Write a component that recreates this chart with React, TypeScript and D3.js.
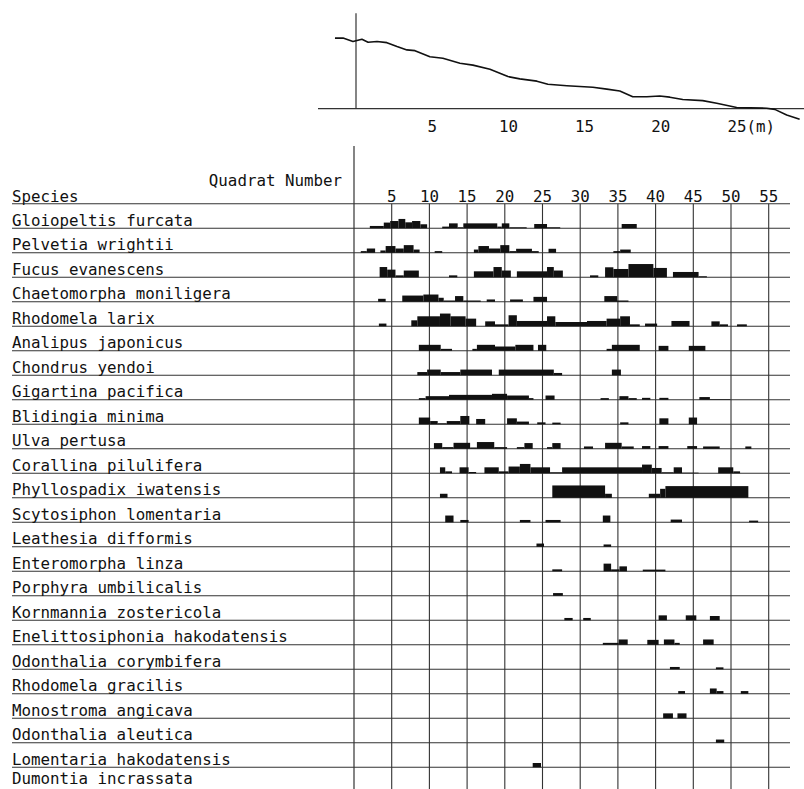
import React from "react";
import * as d3 from "d3";

// ---- Beach profile (top panel) ----
const profileDistance = [-1.38, -0.85, -0.2, 0.39, 0.79, 1.38, 2.03, 2.69, 3.34, 3.87, 4.85, 5.7, 6.82, 7.67, 8.79, 9.44, 9.97, 10.75, 11.87, 12.59, 13.84, 15.54, 16.46, 17.31, 18.16, 19.08, 19.93, 20.59, 21.44, 22.75, 23.67, 24.98, 26.95, 27.48, 28.26, 29.11];
const profileElevation = [1.85, 1.85, 1.76, 1.82, 1.74, 1.76, 1.73, 1.63, 1.54, 1.52, 1.36, 1.32, 1.19, 1.14, 1.03, 0.93, 0.84, 0.78, 0.72, 0.64, 0.6, 0.56, 0.51, 0.46, 0.31, 0.31, 0.33, 0.3, 0.24, 0.21, 0.14, 0.03, 0.01, -0.02, -0.17, -0.28];
const distanceTicks = [5, 10, 15, 20, 25];

// ---- Species distribution (bottom panel) ----
const quadratTicks = [5, 10, 15, 20, 25, 30, 35, 40, 45, 50, 55];
const species = [
  "Gloiopeltis furcata",
  "Pelvetia wrightii",
  "Fucus evanescens",
  "Chaetomorpha moniligera",
  "Rhodomela larix",
  "Analipus japonicus",
  "Chondrus yendoi",
  "Gigartina pacifica",
  "Blidingia minima",
  "Ulva pertusa",
  "Corallina pilulifera",
  "Phyllospadix iwatensis",
  "Scytosiphon lomentaria",
  "Leathesia difformis",
  "Enteromorpha linza",
  "Porphyra umbilicalis",
  "Kornmannia zostericola",
  "Enelittosiphonia hakodatensis",
  "Odonthalia corymbifera",
  "Rhodomela gracilis",
  "Monostroma angicava",
  "Odonthalia aleutica",
  "Lomentaria hakodatensis",
  "Dumontia incrassata",
];

// [from quadrat, to quadrat, abundance (0-10)]
type Seg = [number, number, number];
const gloiopeltis: Seg[] = [[2.1,3.95,1.8],[3.95,4.8,4.4],[4.8,5.9,5.6],[5.9,6.8,7.2],[6.8,7.7,4.6],[7.7,8.8,5.6],[8.8,9.7,3.1],[11.7,12.6,1.3],[12.6,13.75,3.8],[13.75,14.5,0.8],[14.5,19,3.8],[19,19.6,1.3],[19.6,20.6,3.8],[20.6,22.9,0.8],[23.9,25.6,3.3],[25.6,27.35,0.8],[35.5,37.5,3.3]];
const pelvetia: Seg[] = [[0.9,1.7,1.3],[1.7,2.8,3.3],[3.5,4.2,1.8],[4.2,5.5,5.2],[5.5,6.6,3.3],[6.6,7.9,5.9],[7.9,8.7,2.5],[10.7,11.7,1.3],[15.9,16.5,2.5],[16.5,17.9,5.2],[17.9,19.4,3.3],[19.4,20.6,5.9],[20.6,21.5,1.3],[21.5,23.6,3.1],[23.6,24.5,1.3],[25.8,26.8,3.1],[34.4,35.3,1.3],[35.3,36.7,2.5]];
const fucus: Seg[] = [[3.4,4.4,7.9],[4.4,5.5,5.9],[5.5,6.6,1.5],[6.6,8.6,5.2],[12.6,13.7,1.5],[15.9,18.5,4.6],[18.5,19.6,7.9],[19.6,20.8,5.2],[21.6,25.6,4.6],[25.6,26.5,7.9],[26.5,27.7,5.2],[31.3,32.4,1.5],[33.3,34.4,7.7],[34.4,36.4,6.4],[36.4,39.7,10.2],[39.7,41.5,7.2],[42.3,45.7,4.1],[45.7,46.8,0.8]];
const chaetomorpha: Seg[] = [[3.2,4.2,2.3],[6.4,9.2,4.8],[9.2,11.2,5.6],[11.2,11.9,3.1],[11.9,13.4,1],[13.4,14.5,4.4],[14.5,16.8,1],[17.6,18.7,1.8],[20.7,22.4,1.8],[23.8,25.6,3.8],[33.2,34.9,4.4],[34.9,36.4,1]];
const rhodomelaLarix: Seg[] = [[3.3,4.3,2.1],[7.6,8.4,4.6],[8.4,11.4,7.7],[11.4,12.8,9.8],[12.8,14.8,7.7],[14.8,16.2,5.9],[17.4,18.7,3.8],[18.7,20.5,1.5],[20.5,21.6,8.5],[21.6,25.6,4.1],[25.6,26.7,7.7],[26.7,30.9,3.3],[30.9,33.5,4.1],[33.5,35.3,5.9],[35.3,36.6,7.7],[36.6,37.9,1.5],[38.6,40.2,2.1],[42.1,44.5,4.1],[47.4,48.5,3.8],[48.5,49.6,1.5],[50.8,52.1,1.5]];
const analipus: Seg[] = [[8.6,11.5,4.6],[11.5,13,1.5],[15.7,16.3,1.5],[16.3,18.7,4.6],[18.7,21.4,3.3],[21.4,23.8,4.6],[24.4,25.5,4.6],[33.5,34.2,1.5],[34.2,37.9,4.6],[40.4,41.7,3.8],[44.4,46.6,3.8]];
const chondrus: Seg[] = [[8.4,9.7,2.5],[9.7,11.5,4.4],[11.5,14.1,2.5],[14.1,18.3,4.4],[19.2,26.5,4.4],[26.5,27.6,1.8],[34.2,35.4,4.4]];
const gigartina: Seg[] = [[8.6,9.5,1.3],[9.5,12.6,2.8],[12.6,18.3,3.8],[18.3,20.3,4.6],[20.3,23.2,3.3],[23.2,23.8,1.3],[25.4,26.6,3.3],[32.7,33.8,1.3],[35.2,36.4,2.8],[36.4,37.5,1.3],[38.2,39.3,1.5],[40.5,41.7,1.5],[45.8,47.2,2.1],[47.2,49.9,0.5]];
const blidingia: Seg[] = [[8.6,10.1,5.2],[10.1,11.1,2.5],[11.1,12.3,0.8],[12.3,14.1,2.5],[14.1,15.3,6.4],[16.2,17.4,4.1],[20.3,21.6,4.6],[21.6,23.2,2.1],[24.3,25.4,1.5],[26.3,27.4,1.3],[35.3,36.4,1.5],[40.5,41.7,4.6],[44.4,45.5,5.2]];
const ulva: Seg[] = [[10.6,11.7,4.4],[11.7,13.2,1.3],[13.2,15.4,4.6],[15.4,16.3,1],[16.3,18.6,5.2],[18.6,20.3,1.3],[21.6,22.6,1.3],[22.6,23.7,4.4],[25.6,26.3,1.3],[26.3,27.4,4.4],[30.5,31.7,1.8],[33.3,35.5,4.6],[35.5,37.1,1.8],[38.2,39.3,2.1],[40.4,41.7,2.1],[44.2,45.5,2.1],[46.3,48.5,1.8],[51.9,52.7,1.8]];
const corallina: Seg[] = [[11.4,12.1,4.6],[12.1,13,1.5],[14,15.2,4.6],[15.2,16.2,1],[17.3,19.2,4.6],[19.2,20.5,1.5],[20.5,22,5.2],[22,23.4,7.2],[23.4,26,4.6],[26,27.6,0.8],[27.6,38.2,4.6],[38.2,39.5,6.7],[39.5,40.8,4.1],[40.8,42.4,0.8],[42.4,43.5,4.6],[43.5,45.7,0.5],[48.3,50.3,4.6],[50.3,51.2,1.5]];
const phyllospadix: Seg[] = [[11.4,12.4,3.1],[26.3,33.3,9.5],[33.3,34.2,3.1],[39.1,40.6,3.1],[40.6,41.3,6.9],[41.3,52.3,9]];
const scytosiphon: Seg[] = [[12.1,13.2,5.2],[14.1,15.2,1.8],[22,23.4,1.8],[25.4,27.4,1.8],[33,34,5.2],[42,43.5,2.1],[52.4,53.6,1.3]];
const leathesia: Seg[] = [[24.2,25.2,2.5],[33.1,34.1,1.8]];
const enteromorpha: Seg[] = [[26.3,27.6,1.5],[33.1,34.1,5.9],[34.1,35.2,1.5],[35.2,36.2,3.8],[38.3,41.3,1.3]];
const porphyra: Seg[] = [[26.4,27.7,2.1]];
const kornmannia: Seg[] = [[27.9,29,1.8],[30.4,31.4,1.8],[40.4,41.5,3.8],[44,45.4,3.8],[47.2,48.5,3.3]];
const enelittosiphonia: Seg[] = [[33,35.1,1.5],[35.1,36.3,4.1],[38.9,40.4,3.8],[41.1,42.5,4.1],[42.5,43.2,1.5],[46.3,47.7,4.1]];
const odonthaliaCorymbifera: Seg[] = [[41.9,43.2,1.8],[48,49,1.5]];
const rhodomelaGracilis: Seg[] = [[43,43.9,2.1],[47.2,48.1,4.1],[48.1,49,2.1],[51.3,52.3,2.1]];
const monostroma: Seg[] = [[41,42.3,3.8],[42.9,44.1,3.8]];
const odonthaliaAleutica: Seg[] = [[48,49.1,2.5]];
const lomentaria: Seg[] = [[23.7,24.8,3.3]];
const dumontia: Seg[] = [];

const occurrence: Seg[][] = [gloiopeltis, pelvetia, fucus, chaetomorpha, rhodomelaLarix, analipus, chondrus, gigartina, blidingia, ulva, corallina, phyllospadix, scytosiphon, leathesia, enteromorpha, porphyra, kornmannia, enelittosiphonia, odonthaliaCorymbifera, rhodomelaGracilis, monostroma, odonthaliaAleutica, lomentaria, dumontia];

const W = 804;
const H = 789;
const FONT = "'DejaVu Sans Mono', 'Liberation Mono', monospace";
const FS = 15.8;
const INK = "#111";
const LINE = "#333";

export default function App() {
  // top panel scales
  const xM = d3.scaleLinear().domain([0, 25]).range([356, 737]);
  const yE = d3.scaleLinear().domain([0, 2.5]).range([108.6, 13.3]);
  const profile = profileDistance.map((d, i) => [d, profileElevation[i]] as [number, number]);
  const line = d3.line<[number, number]>().x((d) => xM(d[0])).y((d) => yE(d[1]));

  // bottom panel scales
  const xQ = d3.scaleLinear().domain([0, 55]).range([354, 768.7]);
  const yRow = d3.scalePoint<string>().domain(species).range([228.3, 228.3 + 24.5 * (species.length - 1)]);
  const hAb = d3.scaleLinear().domain([0, 10]).range([0, 13]);
  const headerY = 228.3 - 24.5;
  const charW = FS * 0.602;

  return (
    <svg width={W} height={H} style={{ position: "absolute", left: 0, top: 0, background: "#fff" }} fontFamily={FONT}>
      <rect x={0} y={0} width={W} height={H} fill="#fff" />
      {/* ---- top panel ---- */}
      <line x1={318} x2={W} y1={yE(0)} y2={yE(0)} stroke={LINE} strokeWidth={1.2} />
      <line x1={xM(0)} x2={xM(0)} y1={yE(2.5)} y2={yE(0)} stroke={LINE} strokeWidth={1.2} />
      <path d={line(profile) || ""} fill="none" stroke={INK} strokeWidth={1.6} strokeLinejoin="round" />
      {distanceTicks.map((t) =>
        t === 25 ? (
          <text key={t} x={xM(t) - charW} y={132} fontSize={FS} fill={INK}>
            {t}(m)
          </text>
        ) : (
          <text key={t} x={xM(t)} y={132} fontSize={FS} fill={INK} textAnchor="middle">
            {t}
          </text>
        )
      )}

      {/* ---- bottom panel ---- */}
      <line x1={xQ(0)} x2={xQ(0)} y1={146} y2={H} stroke={LINE} strokeWidth={1.2} />
      {quadratTicks.map((t) => (
        <line key={"v" + t} x1={xQ(t)} x2={xQ(t)} y1={headerY} y2={H} stroke={LINE} strokeWidth={1.1} />
      ))}
      <line x1={12} x2={790} y1={headerY} y2={headerY} stroke={LINE} strokeWidth={1.1} />
      {species.map((s) => (
        <line key={"h" + s} x1={12} x2={790} y1={yRow(s)!} y2={yRow(s)!} stroke={LINE} strokeWidth={1.1} />
      ))}
      {quadratTicks.map((t) => (
        <text key={"t" + t} x={xQ(t)} y={headerY - 2} fontSize={FS} fill={INK} textAnchor="middle">
          {t}
        </text>
      ))}
      <text x={12} y={headerY - 2} fontSize={FS} fill={INK}>Species</text>
      <text x={342} y={186} fontSize={FS} fill={INK} textAnchor="end">Quadrat Number</text>
      {species.map((s) => (
        <text key={"l" + s} x={12} y={Math.min(yRow(s)! - 2.5, H - 5)} fontSize={FS} fill={INK}>
          {s}
        </text>
      ))}
      {occurrence.map((segs, i) => (
        <g key={"b" + i}>
          {segs.map((sg, j) => (
            <rect
              key={j}
              x={xQ(sg[0])}
              width={xQ(sg[1]) - xQ(sg[0])}
              y={yRow(species[i])! - hAb(sg[2])}
              height={hAb(sg[2])}
              fill={INK}
            />
          ))}
        </g>
      ))}
    </svg>
  );
}
